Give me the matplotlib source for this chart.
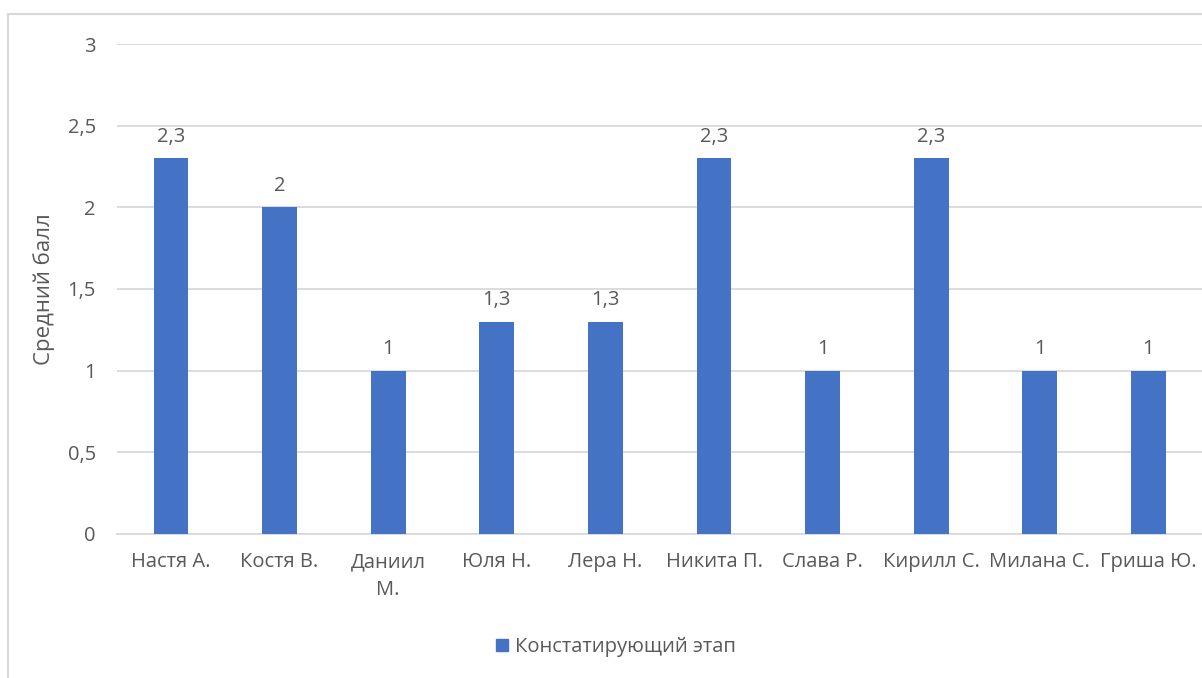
import matplotlib.pyplot as plt
from matplotlib.lines import Line2D
from matplotlib.patches import Patch

names = ["Настя А.", "Костя В.", "Даниил\nМ.", "Юля Н.", "Лера Н.",
         "Никита П.", "Слава Р.", "Кирилл С.", "Милана С.", "Гриша Ю."]
scores = [2.3, 2.0, 1.0, 1.3, 1.3, 2.3, 1.0, 2.3, 1.0, 1.0]
y_ticks = [0, 0.5, 1, 1.5, 2, 2.5, 3]
series_name = "Констатирующий этап"

BLUE = "#4472C4"
TEXT = "#595959"
GRID = "#D9D9D9"


def fmt_num(v):
    s = f"{v:g}"
    return s.replace(".", ",")


plt.rcParams["font.family"] = ["Open Sans", "DejaVu Sans"]

fig = plt.figure(figsize=(12.02, 6.78), dpi=100)
ax = fig.add_axes([0.0971, 0.2124, 0.9035, 0.7227])

x = list(range(len(names)))
bars = ax.bar(x, scores, width=0.32, color=BLUE, zorder=3)
ax.bar_label(bars, labels=[fmt_num(v) for v in scores], padding=8.5,
             fontsize=14.5, color=TEXT)

ax.set_xlim(-0.5, len(names) - 0.5)
ax.set_ylim(0, 3)
ax.set_yticks(y_ticks)
ax.set_yticklabels([fmt_num(v) for v in y_ticks])
ax.set_xticks(x)
ax.set_xticklabels(names, linespacing=1.5)
ax.tick_params(axis="both", length=0, labelsize=14.5, labelcolor=TEXT)
ax.tick_params(axis="y", pad=15)
ax.tick_params(axis="x", pad=13)

ax.grid(True, axis="y", color=GRID, linewidth=1.3, zorder=0)
for s in ["top", "right", "left"]:
    ax.spines[s].set_visible(False)
ax.spines["bottom"].set_color(GRID)
ax.spines["bottom"].set_linewidth(1.3)

ax.set_ylabel("Средний балл", fontsize=16, color=TEXT)
ax.yaxis.set_label_coords(-62 / 1086, 0.5)

# chart area border (top and left edges visible)
fig.add_artist(Line2D([8 / 1202, 1.0], [1 - 14 / 678, 1 - 14 / 678],
                      transform=fig.transFigure, color=GRID, linewidth=1.5))
fig.add_artist(Line2D([8 / 1202, 8 / 1202], [0, 1 - 14 / 678],
                      transform=fig.transFigure, color=GRID, linewidth=1.5))

fig.legend(handles=[Patch(color=BLUE, label=series_name)],
           loc="center", bbox_to_anchor=(0.5125, 1 - 647 / 678),
           frameon=False, fontsize=14.5, labelcolor=TEXT,
           handlelength=0.6, handleheight=0.6, handletextpad=0.35)

fig.savefig("out.png", dpi=100)
